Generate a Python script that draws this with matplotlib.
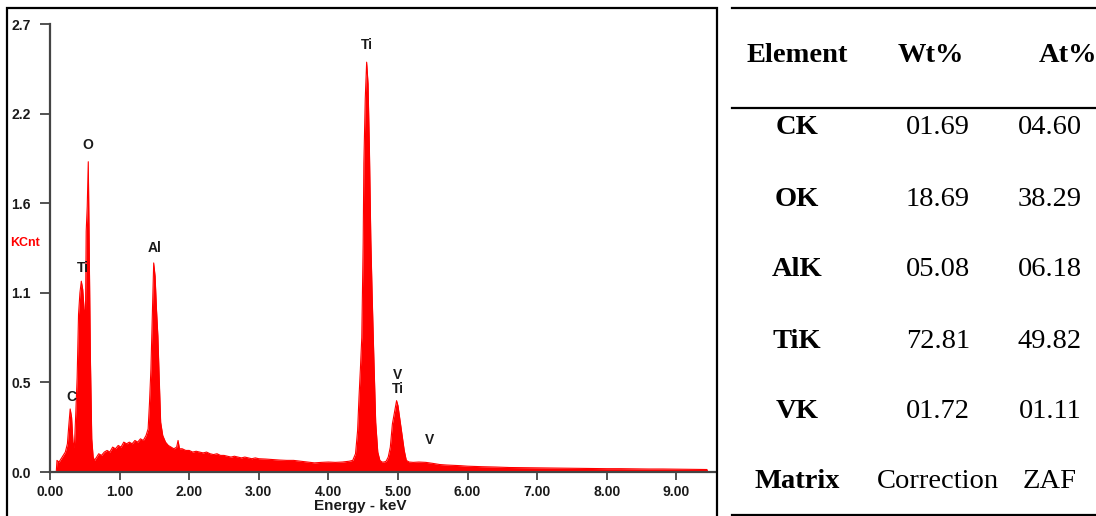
import matplotlib
matplotlib.use("Agg")
import matplotlib.pyplot as plt
from matplotlib.patches import Rectangle
from matplotlib.lines import Line2D

# EDS spectrum (keV, KCnt)
energy = [0.09, 0.10, 0.13, 0.16, 0.19, 0.22, 0.25, 0.27, 0.29, 0.31, 0.33, 0.35,
          0.37, 0.39, 0.41, 0.43, 0.45, 0.47, 0.49, 0.51, 0.52, 0.535, 0.55, 0.565,
          0.58, 0.60, 0.62, 0.64, 0.67, 0.70, 0.74, 0.78, 0.82, 0.86, 0.90, 0.94,
          0.98, 1.02, 1.06, 1.10, 1.14, 1.18, 1.22, 1.26, 1.30, 1.34, 1.38, 1.41,
          1.43, 1.45, 1.47, 1.49, 1.51, 1.53, 1.55, 1.57, 1.59, 1.62, 1.66, 1.70,
          1.74, 1.78, 1.82, 1.84, 1.86, 1.90, 1.95, 2.00, 2.05, 2.10, 2.15, 2.20,
          2.25, 2.30, 2.35, 2.40, 2.45, 2.50, 2.55, 2.60, 2.65, 2.70, 2.75, 2.80,
          2.85, 2.90, 2.95, 3.00, 3.10, 3.20, 3.30, 3.40, 3.50, 3.60, 3.70, 3.80,
          3.90, 4.00, 4.10, 4.20, 4.30, 4.35, 4.39, 4.42, 4.44, 4.46, 4.48, 4.50,
          4.51, 4.53, 4.55, 4.57, 4.59, 4.61, 4.63, 4.65, 4.68, 4.71, 4.74, 4.77,
          4.80, 4.83, 4.86, 4.89, 4.92, 4.95, 4.98, 5.00, 5.03, 5.06, 5.09, 5.12,
          5.16, 5.22, 5.30, 5.40, 5.50, 5.60, 5.70, 5.80, 5.90, 6.00, 6.20, 6.40,
          6.60, 6.80, 7.00, 7.20, 7.40, 7.60, 7.80, 8.00, 8.20, 8.40, 8.60, 8.80,
          9.00, 9.20, 9.44, 9.45]
counts = [0.00, 0.07, 0.06, 0.08, 0.10, 0.12, 0.17, 0.28, 0.38, 0.33, 0.18, 0.15,
          0.35, 0.57, 0.95, 1.08, 1.15, 1.10, 0.98, 0.96, 1.45, 1.60, 1.87, 1.30,
          0.70, 0.20, 0.09, 0.07, 0.09, 0.11, 0.10, 0.12, 0.13, 0.12, 0.15, 0.14,
          0.16, 0.15, 0.18, 0.17, 0.18, 0.17, 0.19, 0.18, 0.20, 0.19, 0.22, 0.26,
          0.42, 0.62, 0.95, 1.26, 1.18, 0.98, 0.82, 0.55, 0.30, 0.22, 0.18, 0.16,
          0.15, 0.14, 0.15, 0.19, 0.14, 0.14, 0.13, 0.13, 0.12, 0.125, 0.12, 0.115,
          0.12, 0.11, 0.105, 0.11, 0.10, 0.10, 0.095, 0.09, 0.095, 0.09, 0.085, 0.09,
          0.085, 0.08, 0.085, 0.08, 0.078, 0.075, 0.072, 0.07, 0.07, 0.065, 0.06, 0.055,
          0.058, 0.06, 0.058, 0.06, 0.065, 0.07, 0.11, 0.25, 0.45, 0.62, 0.81, 1.38,
          1.86, 2.25, 2.47, 2.34, 1.94, 1.40, 1.05, 0.74, 0.30, 0.12, 0.07, 0.06,
          0.06, 0.065, 0.09, 0.15, 0.29, 0.36, 0.43, 0.40, 0.31, 0.22, 0.13, 0.07,
          0.06, 0.058, 0.06, 0.058, 0.052, 0.045, 0.042, 0.04, 0.038, 0.035, 0.032, 0.03,
          0.027, 0.026, 0.025, 0.024, 0.023, 0.022, 0.021, 0.02, 0.02, 0.019, 0.018, 0.018,
          0.017, 0.016, 0.015, 0.00]

# peak labels: text, energy, height
peak_text = ["C", "Ti", "O", "Al", "Ti", "V\nTi", "V"]
peak_e = [0.30, 0.47, 0.55, 1.51, 4.55, 5.0, 5.45]
peak_y = [0.41, 1.19, 1.93, 1.31, 2.53, 0.46, 0.15]

y_ticks = [0.0, 0.54, 1.08, 1.62, 2.16, 2.7]
x_ticks = [0, 1, 2, 3, 4, 5, 6, 7, 8, 9]

# composition table
elements = ["CK", "OK", "AlK", "TiK", "VK"]
wt_pct = ["01.69", "18.69", "05.08", "72.81", "01.72"]
at_pct = ["04.60", "38.29", "06.18", "49.82", "01.11"]

W, H = 1096, 516
fig = plt.figure(figsize=(W / 100, H / 100), dpi=100)

ax = fig.add_axes([50 / W, 44 / H, 666 / W, 448 / H])
ax.fill_between(energy, counts, 0, color="#ff0000", lw=0)
ax.plot(energy, counts, color="#ff0000", lw=0.8)
ax.set_xlim(0, 9.57)
ax.set_ylim(0, 2.7)
for s in ["top", "right"]:
    ax.spines[s].set_visible(False)
for s in ["left", "bottom"]:
    ax.spines[s].set_color("#444444")
    ax.spines[s].set_linewidth(1.6)

lab_font = dict(family="Liberation Sans", weight="bold", size=10, color="#1a1a1a")
ax.set_yticks(y_ticks)
ax.set_yticklabels(["%.1f" % v for v in y_ticks], **lab_font)
ax.set_xticks(x_ticks)
ax.set_xticklabels(["%.2f" % v for v in x_ticks], **lab_font)
ax.tick_params(axis="y", length=7, width=1.3, color="#444444", pad=7)
ax.tick_params(axis="x", length=6, width=1.3, color="#444444", pad=3)

for t, e, y in zip(peak_text, peak_e, peak_y):
    ax.text(e, y, t, ha="center", va="bottom", family="Liberation Sans",
            weight="bold", size=10, color="#1a1a1a", linespacing=0.95)

fig.text(10 / W, 1 - 243 / H, "KCnt", color="#ff0000", ha="left", va="center",
         family="Liberation Sans", weight="bold", size=9)
fig.text(360 / W, 1 - 506 / H, "Energy - keV", ha="center", va="center",
         family="Liberation Sans", weight="bold", size=11, color="#1a1a1a")

# frame round the spectrum
fig.add_artist(Rectangle((7 / W, -0.02), 710 / W, (516 - 8) / H + 0.02,
                         transform=fig.transFigure, fill=False, lw=1.6, ec="black"))

# table rules
for yp in [8, 108, 514.5]:
    fig.add_artist(Line2D([732 / W, 1.0], [1 - yp / H] * 2, color="black", lw=1.6))

serif = "Liberation Serif"
fs = 20.5
col_x = [797, 938, 1050]
fig.text(col_x[0] / W, 1 - 56 / H, "Element", ha="center", va="center",
         family=serif, weight="bold", size=fs)
fig.text(931 / W, 1 - 56 / H, "Wt%", ha="center", va="center",
         family=serif, weight="bold", size=fs)
fig.text(1068 / W, 1 - 56 / H, "At%", ha="center", va="center",
         family=serif, weight="bold", size=fs)

row_y = [128, 199, 270, 341, 411, 482]
for i, el in enumerate(elements):
    yy = 1 - row_y[i] / H
    fig.text(col_x[0] / W, yy, el, ha="center", va="center", family=serif,
             weight="bold", size=fs)
    fig.text(col_x[1] / W, yy, wt_pct[i], ha="center", va="center", family=serif, size=fs)
    fig.text(col_x[2] / W, yy, at_pct[i], ha="center", va="center", family=serif, size=fs)

yy = 1 - row_y[-1] / H
fig.text(col_x[0] / W, yy, "Matrix", ha="center", va="center", family=serif,
         weight="bold", size=fs)
fig.text(col_x[1] / W, yy, "Correction", ha="center", va="center", family=serif, size=fs)
fig.text(col_x[2] / W, yy, "ZAF", ha="center", va="center", family=serif, size=fs)

fig.savefig("out.png", dpi=100)
